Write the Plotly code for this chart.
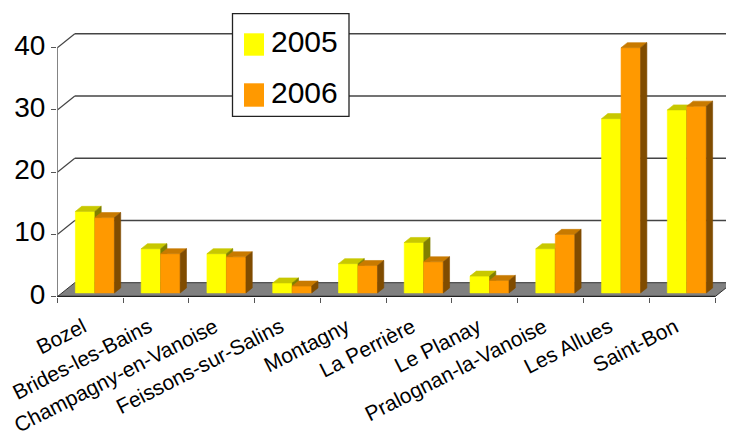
import plotly.graph_objects as go

# ---------------- data ----------------
categories = ["Bozel", "Brides-les-Bains", "Champagny-en-Vanoise", "Feissons-sur-Salins",
              "Montagny", "La Perrière", "Le Planay", "Pralognan-la-Vanoise",
              "Les Allues", "Saint-Bon"]
series_names = ["2005", "2006"]
values_2005 = [13.1, 7.1, 6.3, 1.6, 4.7, 8.1, 2.7, 7.1, 28.0, 29.4]
values_2006 = [12.1, 6.3, 5.8, 1.1, 4.4, 5.0, 2.0, 9.4, 39.4, 30.0]
y_ticks = [0, 10, 20, 30, 40]

# ---------------- styles / geometry ----------------
# The page body has an 8px default margin; the figure is sized and laid out
# so that it fills the 734x436 window exactly.
FONT = "Liberation Sans, Arial, sans-serif"
PAGE_OFF = 8
W, H = 734 - PAGE_OFF, 436 - PAGE_OFF
ML, MR, MT, MB = 57 - PAGE_OFF, 0, 10 - PAGE_OFF, 139
PX_X = 65.77          # px per category
PX_Y = 6.2245         # px per value unit
X0 = -0.0046
Y0 = -0.048
XR = [X0, X0 + (W - ML - MR) / PX_X]
YR = [Y0, Y0 + (H - MT - MB) / PX_Y]

DX = 17.5 / PX_X      # full depth offset (x units)
DY = 14.0 / PX_Y      # full depth offset (y units)
F0, F1 = 0.27, 0.63   # bar depth position (front, back) as fraction of depth
BAR_W = 19.5 / PX_X

face_colors = {
    "2005": ("#FFFF00", "#C8C800", "#808000"),
    "2006": ("#FF9900", "#C87A00", "#804C00"),
}

fig = go.Figure()

n = len(categories)
sx, sy = F0 * DX, F0 * DY
bx, by = (F1 - F0) * DX, (F1 - F0) * DY


def faces(values, offset_sign):
    front_x, front_y, top_x, top_y, side_x, side_y = [], [], [], [], [], []
    for i, v in enumerate(values):
        c = i + 0.5
        L = c + sx - BAR_W if offset_sign < 0 else c + sx
        R = L + BAR_W
        b0 = sy
        t = sy + v
        front_x += [L, R, R, L, L, None]
        front_y += [b0, b0, t, t, b0, None]
        top_x += [L, R, R + bx, L + bx, L, None]
        top_y += [t, t, t + by, t + by, t, None]
        side_x += [R, R + bx, R + bx, R, R, None]
        side_y += [b0, b0 + by, t + by, t, b0, None]
    return (front_x, front_y), (top_x, top_y), (side_x, side_y)


for name, vals, sgn in [(series_names[0], values_2005, -1), (series_names[1], values_2006, 1)]:
    cols = face_colors[name]
    for (xs, ys), col in zip(faces(vals, sgn), cols):
        fig.add_trace(go.Scatter(
            x=xs, y=ys, mode="lines", fill="toself", fillcolor=col,
            line=dict(color=col, width=0.6), hoverinfo="skip",
            showlegend=False, name=name))

shapes = []
GRID = "#444444"
# floor
shapes.append(dict(type="path", xref="x", yref="y", layer="below",
                   path=f"M0,0 L{n},0 L{n + DX},{DY} L{DX},{DY} Z",
                   fillcolor="#808080", line=dict(color="#333333", width=1)))
# back-wall gridlines and left diagonals
for v in y_ticks[1:]:
    shapes.append(dict(type="line", xref="x", yref="y", layer="below",
                       x0=DX, y0=v + DY, x1=n + DX, y1=v + DY,
                       line=dict(color=GRID, width=1.6)))
    shapes.append(dict(type="line", xref="x", yref="y", layer="below",
                       x0=0, y0=v, x1=DX, y1=v + DY,
                       line=dict(color=GRID, width=1.2)))
# front axis lines
shapes.append(dict(type="line", xref="x", yref="y", layer="above",
                   x0=0, y0=0, x1=0, y1=y_ticks[-1],
                   line=dict(color="#777777", width=1.2)))
shapes.append(dict(type="line", xref="x", yref="y", layer="above",
                   x0=0, y0=0, x1=n, y1=0,
                   line=dict(color="#222222", width=1.8)))

# manual legend (reference pixel -> paper conversion)
def px(xp):
    return (xp - PAGE_OFF - ML) / (W - ML - MR)

def py(yp):
    return (H - MB - (yp - PAGE_OFF)) / (H - MT - MB)

shapes.append(dict(type="rect", xref="paper", yref="paper", layer="above",
                   x0=px(232.5), x1=px(349), y0=py(116.3), y1=py(13.7),
                   fillcolor="white", line=dict(color="#222222", width=1.3)))
legend_rows = [(33.3, 55.7, 41.3), (83.3, 106.7, 92.5)]
annotations = []
for name, (ya, yb, yt) in zip(series_names, legend_rows):
    shapes.append(dict(type="rect", xref="paper", yref="paper", layer="above",
                       x0=px(244), x1=px(264), y0=py(yb), y1=py(ya),
                       fillcolor=face_colors[name][0], line=dict(width=0)))
    annotations.append(dict(xref="paper", yref="paper", x=px(269), y=py(yt),
                            xanchor="left", yanchor="middle", text=name,
                            showarrow=False, font=dict(family=FONT, size=30, color="black")))

fig.update_layout(
    width=W, height=H,
    margin=dict(l=ML, r=MR, t=MT, b=MB, pad=0, autoexpand=False),
    plot_bgcolor="white", paper_bgcolor="white",
    shapes=shapes, annotations=annotations,
    showlegend=False,
    xaxis=dict(range=XR, tickmode="array", automargin=False,
               tickvals=[i + 0.5 for i in range(n)], ticktext=categories,
               tickangle=-27, ticks="", showgrid=False, zeroline=False, showline=False,
               ticklabelstandoff=13, ticklabelshift=-7, ticklabeloverflow="allow",
               tickfont=dict(family=FONT, size=21, color="black"),
               minor=dict(tickmode="array", tickvals=list(range(n + 1)), ticks="outside",
                          ticklen=5, tickwidth=1, tickcolor="#555555", showgrid=False)),
    yaxis=dict(range=YR, tickmode="array", tickvals=y_ticks, automargin=False,
               ticks="outside", ticklen=5, tickwidth=1, tickcolor="#555555",
               ticklabelshift=-3,
               showgrid=False, zeroline=False, showline=False,
               tickfont=dict(family=FONT, size=28, color="black")),
)

fig.write_html("out.html")
